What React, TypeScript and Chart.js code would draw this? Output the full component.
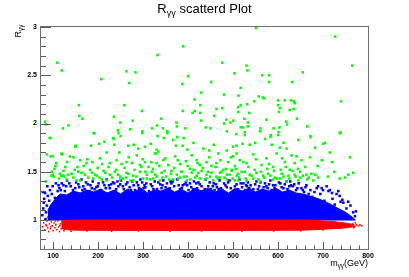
import React, { useEffect, useRef } from "react";
import { Chart, registerables } from "chart.js";

Chart.register(...registerables);

// ---- axis ticks ----
const xTickValues = [100, 200, 300, 400, 500, 600, 700, 800];
const yTickValues = [1, 1.5, 2, 2.5, 3];
const xRange = [73, 800];
const yRange = [0.7, 3];

// ---- dense bands (envelopes) ----
const redBandX = [118, 130, 150, 200, 300, 400, 500, 600, 650, 680, 700, 720, 740, 755, 765, 770];
const redBandTop = [0.99, 0.997, 1.0, 1.0, 1.0, 1.0, 1.0, 1.0, 1.0, 1.0, 0.99, 0.985, 0.975, 0.965, 0.955, 0.95];
const redBandBottom = [0.91, 0.9, 0.895, 0.893, 0.892, 0.892, 0.892, 0.893, 0.895, 0.9, 0.905, 0.91, 0.915, 0.922, 0.93, 0.94];

const blueBandX = [88, 95, 105, 115, 130, 145, 160, 175, 190, 205, 220, 235, 250, 265, 280, 295, 310, 325, 340, 355, 370, 385, 400, 415, 430, 445, 460, 475, 490, 505, 520, 535, 550, 565, 580, 595, 610, 625, 640, 655, 670, 690, 710, 730, 750, 765, 772];
const blueBandTop = [1.1, 1.16, 1.22, 1.27, 1.26, 1.3, 1.28, 1.31, 1.29, 1.32, 1.28, 1.31, 1.27, 1.32, 1.29, 1.33, 1.28, 1.31, 1.3, 1.33, 1.29, 1.32, 1.28, 1.33, 1.3, 1.33, 1.29, 1.32, 1.28, 1.33, 1.3, 1.33, 1.29, 1.32, 1.3, 1.33, 1.29, 1.31, 1.28, 1.27, 1.25, 1.22, 1.18, 1.13, 1.08, 1.03, 1.0];
const blueBandFloor = 1.0;

// ---- scattered points ----
const redPoints: [number, number][] = [
  [76, 0.93], [79, 0.97], [81, 0.9], [84, 0.95], [86, 0.99], [88, 0.92], [90, 0.88], [92, 0.96], [94, 0.91],
  [96, 0.98], [98, 0.94], [100, 0.89], [102, 0.97], [104, 0.92], [106, 0.95], [108, 0.9], [110, 0.99],
  [112, 0.93], [114, 0.88], [116, 0.96], [118, 0.91], [120, 0.98], [122, 0.94], [124, 0.89], [85, 0.94],
  [95, 0.93], [105, 0.99], [115, 0.94], [140, 0.885], [175, 0.887], [230, 0.884], [290, 0.886], [360, 0.885],
  [430, 0.887], [520, 0.884], [590, 0.886], [650, 0.889], [700, 0.897],
  [762, 0.94], [766, 0.96], [770, 0.93], [774, 0.95], [778, 0.94], [782, 0.95], [786, 0.94], [768, 0.92], [772, 0.97],
];

const bluePoints: [number, number][] = [
  [76, 1.05], [78, 1.12], [80, 1.22], [82, 1.28], [79, 1.18], [84, 1.08], [86, 1.15], [88, 1.25], [90, 1.03],
  [91, 1.2], [93, 1.31], [95, 1.1], [97, 1.27], [99, 1.35], [100, 1.17], [102, 1.06], [104, 1.23], [106, 1.38],
  [108, 1.13], [110, 1.3], [83, 1.01], [87, 1.35], [96, 1.04], [112, 1.36], [77, 1.29],
  [114, 1.33], [119, 1.38], [126, 1.3], [131, 1.41], [139, 1.35], [144, 1.31], [151, 1.39], [158, 1.34], [163, 1.42],
  [170, 1.32], [177, 1.37], [181, 1.3], [188, 1.4], [196, 1.34], [201, 1.38], [207, 1.31], [214, 1.36], [219, 1.42],
  [226, 1.33], [233, 1.39], [238, 1.3], [245, 1.35], [251, 1.41], [257, 1.32], [262, 1.37], [270, 1.34], [276, 1.4],
  [282, 1.31], [289, 1.36], [294, 1.42], [301, 1.33], [307, 1.38], [313, 1.3], [320, 1.35], [326, 1.4], [331, 1.32],
  [338, 1.37], [345, 1.41], [350, 1.34], [357, 1.31], [363, 1.38], [369, 1.35], [376, 1.42], [382, 1.32], [388, 1.36],
  [395, 1.39], [401, 1.31], [407, 1.34], [413, 1.4], [420, 1.33], [426, 1.37], [432, 1.3], [439, 1.42], [445, 1.35],
  [451, 1.32], [457, 1.38], [464, 1.34], [470, 1.41], [476, 1.31], [483, 1.36], [489, 1.39], [495, 1.33], [501, 1.3],
  [508, 1.37], [514, 1.42], [520, 1.34], [527, 1.31], [533, 1.39], [539, 1.36], [545, 1.32], [552, 1.4], [558, 1.35],
  [564, 1.31], [571, 1.38], [577, 1.33], [583, 1.41], [589, 1.36], [596, 1.3], [602, 1.39], [608, 1.34], [615, 1.37],
  [621, 1.32], [627, 1.4], [633, 1.35], [640, 1.31], [646, 1.38],
  [123, 1.36], [167, 1.35], [229, 1.37], [286, 1.39], [341, 1.33], [398, 1.36], [459, 1.31], [517, 1.38], [574, 1.35],
  [629, 1.36], [186, 1.33], [243, 1.4], [303, 1.36], [361, 1.4], [418, 1.38], [473, 1.33], [531, 1.35], [592, 1.33],
  [117, 1.31], [129, 1.35], [136, 1.38], [149, 1.33], [156, 1.37], [165, 1.31], [173, 1.39], [183, 1.36], [192, 1.32],
  [199, 1.35], [211, 1.39], [217, 1.33], [224, 1.36], [236, 1.38], [240, 1.32], [249, 1.37], [255, 1.35], [265, 1.39],
  [273, 1.31], [279, 1.36], [291, 1.33], [298, 1.39], [305, 1.34], [317, 1.37], [323, 1.32], [334, 1.39], [343, 1.36],
  [353, 1.38], [359, 1.33], [366, 1.4], [379, 1.36], [386, 1.33], [392, 1.37], [404, 1.38], [411, 1.32], [423, 1.39],
  [430, 1.35], [437, 1.32], [448, 1.39], [455, 1.35], [462, 1.37], [468, 1.32], [480, 1.38], [486, 1.34], [492, 1.41],
  [504, 1.35], [511, 1.32], [523, 1.38], [529, 1.36], [536, 1.33], [549, 1.37], [555, 1.32], [561, 1.39], [568, 1.34],
  [580, 1.37], [586, 1.31], [594, 1.36], [605, 1.38], [612, 1.33], [619, 1.4], [625, 1.35], [636, 1.37], [643, 1.33],
  [655, 1.31], [661, 1.34],
  [652, 1.33], [658, 1.29], [663, 1.36], [668, 1.27], [672, 1.31], [676, 1.24], [681, 1.29], [686, 1.33], [689, 1.35],
  [694, 1.27], [697, 1.33], [703, 1.2], [708, 1.35], [712, 1.3], [715, 1.31], [721, 1.22], [726, 1.16], [730, 1.27],
  [734, 1.3], [737, 1.25], [739, 1.19], [745, 1.18], [749, 1.06], [752, 1.12], [756, 1.19], [761, 1.15], [767, 1.08],
  [773, 1.09], [771, 1.04], [700, 1.31], [720, 1.28], [743, 1.21],
];

const greenPoints: [number, number][] = [
  [109, 2.63], [119, 2.55], [389, 2.8], [332, 2.71], [476, 2.63], [263, 2.54], [283, 2.53], [207, 2.46], [269, 2.42],
  [400, 2.49], [387, 2.41], [451, 2.43], [503, 2.52], [429, 2.32], [414, 2.25], [480, 2.3], [512, 2.29], [157, 2.19],
  [258, 2.19], [427, 2.19], [476, 2.16], [297, 2.13], [388, 2.13], [415, 2.13], [410, 2.11], [463, 2.15], [427, 2.11],
  [511, 2.17], [511, 2.12], [158, 2.08], [165, 2.05], [235, 2.07], [458, 2.08], [429, 2.03], [277, 2.03], [249, 2.01],
  [340, 2.05], [374, 2.01], [480, 2.0], [494, 2.01], [500, 2.03], [122, 1.95], [134, 1.98], [192, 1.9], [244, 1.93],
  [271, 1.94], [298, 1.92], [320, 1.95], [331, 1.98], [344, 1.95], [354, 1.92], [375, 1.97], [394, 1.95], [439, 1.96],
  [450, 1.95], [486, 1.92], [517, 1.96], [234, 1.85], [250, 1.87], [332, 1.87], [346, 1.85], [376, 1.86], [390, 1.85],
  [551, 2.99], [727, 2.9], [765, 2.6], [530, 2.6], [532, 2.55], [565, 2.5], [580, 2.5], [655, 2.53], [580, 2.43],
  [631, 2.43], [517, 2.37], [557, 2.28], [566, 2.27], [569, 2.26], [600, 2.24], [615, 2.24], [629, 2.24], [635, 2.23],
  [637, 2.21], [547, 2.23], [531, 2.2], [517, 2.19], [600, 2.19], [604, 2.16], [635, 2.15], [626, 2.14], [740, 2.23],
  [602, 2.12], [536, 2.11], [642, 2.05], [485, 2.04], [525, 2.05], [574, 2.04], [618, 2.02], [620, 1.99], [665, 1.97],
  [533, 2.01], [533, 1.97], [522, 1.96], [561, 1.95], [590, 1.95], [603, 1.96], [601, 1.91], [507, 1.89], [526, 1.91],
  [584, 1.88], [672, 1.86], [739, 1.91],
  [82, 2.02], [84, 1.99], [94, 1.85], [92, 1.85], [149, 1.76], [86, 1.68], [94, 1.66], [99, 1.66], [119, 1.68],
  [145, 1.65], [107, 1.59], [105, 1.56], [103, 1.53], [97, 1.5], [99, 1.47], [96, 1.46], [101, 1.45], [115, 1.48],
  [118, 1.46], [122, 1.46], [125, 1.45], [84, 1.4], [154, 1.55], [156, 1.5],
  [190, 1.9], [245, 1.9], [298, 1.9], [354, 1.9], [150, 1.77], [184, 1.77], [202, 1.79], [214, 1.81], [234, 1.84],
  [236, 1.78], [267, 1.77], [279, 1.78], [289, 1.74], [304, 1.76], [317, 1.79], [330, 1.73], [334, 1.71], [329, 1.69],
  [367, 1.83], [373, 1.77], [388, 1.77], [398, 1.73], [412, 1.8], [434, 1.74], [447, 1.72], [457, 1.78], [467, 1.69],
  [486, 1.72], [500, 1.76], [508, 1.69], [119, 1.69], [137, 1.66], [160, 1.62], [174, 1.59], [187, 1.6], [204, 1.64],
  [219, 1.7], [226, 1.59], [247, 1.7], [252, 1.58], [263, 1.6], [275, 1.59], [286, 1.67], [293, 1.57], [304, 1.6],
  [312, 1.55], [326, 1.69], [330, 1.59], [345, 1.62], [356, 1.57], [371, 1.66], [382, 1.58], [395, 1.61], [404, 1.53],
  [419, 1.62], [426, 1.57], [441, 1.6], [452, 1.56], [463, 1.59], [478, 1.52], [489, 1.6], [504, 1.56],
  [123, 1.51], [141, 1.48], [156, 1.5], [171, 1.47], [186, 1.49], [197, 1.46], [212, 1.51], [226, 1.47], [237, 1.5],
  [249, 1.45], [263, 1.49], [278, 1.46], [293, 1.5], [308, 1.47], [319, 1.5], [330, 1.45], [341, 1.49], [351, 1.45],
  [363, 1.51], [375, 1.47], [386, 1.5], [397, 1.45], [408, 1.49], [419, 1.46], [430, 1.51], [441, 1.47], [452, 1.49],
  [463, 1.45], [474, 1.5], [486, 1.47], [497, 1.51], [508, 1.46], [130, 1.42], [160, 1.41], [189, 1.43], [219, 1.41],
  [249, 1.42], [278, 1.41], [308, 1.43], [337, 1.41], [367, 1.42], [397, 1.41], [426, 1.43], [456, 1.41], [486, 1.42],
  [512, 1.41], [145, 1.44], [203, 1.44], [262, 1.44], [322, 1.43], [382, 1.44], [441, 1.43], [470, 1.44],
  [526, 1.88], [560, 1.92], [583, 1.86], [600, 1.88], [612, 1.8], [645, 1.83], [672, 1.87], [737, 1.9], [508, 1.77],
  [521, 1.79], [537, 1.78], [549, 1.8], [571, 1.84], [586, 1.78], [604, 1.75], [619, 1.74], [630, 1.67], [652, 1.62],
  [671, 1.65], [682, 1.75], [704, 1.8], [715, 1.7], [700, 1.79], [760, 1.65], [767, 1.49], [756, 1.47], [749, 1.44],
  [737, 1.43], [697, 1.62], [500, 1.66], [515, 1.62], [530, 1.59], [545, 1.68], [563, 1.57], [574, 1.64], [589, 1.55],
  [597, 1.69], [615, 1.6], [626, 1.52], [637, 1.59], [649, 1.5], [660, 1.55], [674, 1.48], [689, 1.44], [678, 1.41],
  [497, 1.52], [511, 1.48], [526, 1.5], [537, 1.47], [552, 1.49], [567, 1.46], [578, 1.48], [593, 1.44], [608, 1.48],
  [623, 1.46], [637, 1.47], [649, 1.44], [663, 1.47], [504, 1.41], [530, 1.41], [560, 1.4], [589, 1.42], [619, 1.4],
  [645, 1.41], [545, 1.43], [604, 1.43], [665, 1.42],
  [113, 1.43], [127, 1.55], [133, 1.47], [148, 1.52], [152, 1.41], [163, 1.49], [168, 1.56], [178, 1.44], [182, 1.52],
  [193, 1.47], [199, 1.54], [208, 1.42], [216, 1.49], [223, 1.55], [231, 1.44], [240, 1.52], [244, 1.47], [255, 1.43],
  [259, 1.54], [267, 1.48], [272, 1.41], [281, 1.52], [285, 1.45], [296, 1.55], [300, 1.43], [305, 1.5], [315, 1.42],
  [322, 1.53], [327, 1.47], [336, 1.56], [343, 1.44], [348, 1.51], [358, 1.42], [362, 1.48], [369, 1.54], [378, 1.43],
  [384, 1.5], [391, 1.45], [399, 1.56], [405, 1.42], [412, 1.52], [416, 1.44], [423, 1.49], [433, 1.54], [437, 1.42],
  [444, 1.5], [449, 1.45], [461, 1.55], [466, 1.43], [471, 1.49], [481, 1.44], [484, 1.53], [492, 1.47], [499, 1.43],
  [506, 1.53], [513, 1.44], [519, 1.5], [528, 1.43], [534, 1.55], [541, 1.46], [548, 1.52], [556, 1.42], [562, 1.5],
  [569, 1.44], [576, 1.53], [583, 1.46], [591, 1.51], [598, 1.43], [606, 1.52], [612, 1.45], [617, 1.55], [625, 1.43],
  [632, 1.51], [639, 1.45], [644, 1.53], [655, 1.46], [668, 1.44], [683, 1.47], [711, 1.45], [725, 1.5],
  [131, 1.6], [176, 1.63], [209, 1.58], [241, 1.62], [268, 1.65], [299, 1.63], [318, 1.6], [349, 1.64], [377, 1.62],
  [408, 1.67], [421, 1.59], [447, 1.65], [472, 1.62], [495, 1.65], [523, 1.6], [551, 1.63], [580, 1.58], [609, 1.64],
  [641, 1.66], [688, 1.56], [720, 1.6],
];

const RED = "#ff0000";
const BLUE = "#0000ff";
const GREEN = "#00ff00";
const FONT = "'Liberation Sans', Arial, Helvetica, sans-serif";

const rootTicks = {
  id: "rootTicks",
  afterDatasetsDraw(chart: any) {
    const { ctx, chartArea, scales } = chart;
    const { left, right, top, bottom } = chartArea;
    const xs = scales.x;
    const ys = scales.y;
    ctx.save();
    ctx.strokeStyle = "#5a5a5a";
    ctx.lineWidth = 1;
    ctx.beginPath();
    for (let v = 80; v <= 800; v += 20) {
      const px = Math.round(xs.getPixelForValue(v)) + 0.5;
      const len = v % 100 === 0 ? 7 : 3.5;
      ctx.moveTo(px, bottom);
      ctx.lineTo(px, bottom - len);
    }
    for (let k = 8; k <= 30; k++) {
      const py = Math.round(ys.getPixelForValue(k / 10)) + 0.5;
      const len = k % 5 === 0 ? 10 : 5;
      ctx.moveTo(left, py);
      ctx.lineTo(left + len, py);
    }
    ctx.stroke();
    ctx.strokeStyle = "#6e6e6e";
    ctx.strokeRect(Math.round(left) - 0.5, Math.round(top) - 0.5, Math.round(right - left) + 1, Math.round(bottom - top) + 1);
    ctx.restore();
  },
};

function band(xArr: number[], yArr: number[]) {
  return xArr.map((x, i) => ({ x, y: yArr[i] }));
}

export default function App() {
  const ref = useRef<HTMLCanvasElement | null>(null);

  useEffect(() => {
    document.body.style.margin = "0";
    const canvas = ref.current!;
    const pts = (arr: [number, number][]) => arr.map(([x, y]) => ({ x, y }));
    const bandStyle = (color: string, fill: any) => ({
      showLine: true,
      pointRadius: 0,
      borderWidth: 1,
      borderColor: color,
      backgroundColor: color,
      fill,
      tension: 0,
      order: 10,
    });
    const chart = new Chart(canvas, {
      type: "scatter",
      data: {
        datasets: [
          { label: "redLow", data: band(redBandX, redBandBottom), ...bandStyle(RED, false) },
          { label: "redHigh", data: band(redBandX, redBandTop), ...bandStyle(RED, "-1") },
          { label: "blueLow", data: band(blueBandX, blueBandX.map(() => blueBandFloor)), ...bandStyle(BLUE, false) },
          { label: "blueHigh", data: band(blueBandX, blueBandTop), ...bandStyle(BLUE, "-1") },
          {
            label: "red",
            data: pts(redPoints),
            pointStyle: "rect",
            pointRadius: 1.1,
            pointBorderWidth: 0,
            backgroundColor: RED,
            order: 2,
          },
          {
            label: "blue",
            data: pts(bluePoints),
            pointStyle: "rect",
            pointRadius: 1.8,
            pointBorderWidth: 0,
            backgroundColor: BLUE,
            order: 1,
          },
          {
            label: "green",
            data: pts(greenPoints),
            pointStyle: "rect",
            pointRadius: 1.8,
            pointBorderWidth: 0,
            backgroundColor: GREEN,
            order: 0,
          },
        ],
      },
      options: {
        animation: false,
        responsive: false,
        devicePixelRatio: 1,
        events: [],
        layout: { padding: { top: 27, right: 41, left: 0, bottom: 0 } },
        plugins: { legend: { display: false }, tooltip: { enabled: false }, title: { display: false } },
        scales: {
          x: {
            type: "linear",
            min: xRange[0],
            max: xRange[1],
            grid: { display: false, drawTicks: false },
            border: { display: false },
            afterBuildTicks: (s: any) => {
              s.ticks = xTickValues.map((value) => ({ value }));
            },
            afterFit: (s: any) => {
              s.height = 28;
            },
            ticks: {
              padding: 3,
              color: "#000",
              font: { family: FONT, size: 7, weight: "bold" },
              callback: (v: any) => String(v),
              maxRotation: 0,
              autoSkip: false,
            },
          },
          y: {
            type: "linear",
            min: yRange[0],
            max: yRange[1],
            grid: { display: false, drawTicks: false },
            border: { display: false },
            afterBuildTicks: (s: any) => {
              s.ticks = yTickValues.map((value) => ({ value }));
            },
            afterFit: (s: any) => {
              s.width = 41;
            },
            ticks: {
              padding: 4,
              color: "#000",
              font: { family: FONT, size: 7, weight: "bold" },
              callback: (v: any) => String(v),
              autoSkip: false,
            },
          },
        },
      },
      plugins: [rootTicks],
    });
    return () => chart.destroy();
  }, []);

  const sub: React.CSSProperties = { fontSize: "70%", position: "relative", top: "0.35em", lineHeight: 0 };

  return (
    <div style={{ position: "relative", width: 409, height: 277, background: "#fff", fontFamily: FONT }}>
      <canvas ref={ref} width={409} height={277} style={{ display: "block" }} />
      <div
        style={{
          position: "absolute",
          left: 0,
          top: 1,
          width: 409,
          textAlign: "center",
          fontSize: 13,
          lineHeight: "15px",
          color: "#000",
          whiteSpace: "nowrap",
        }}
      >
        R<span style={sub}>γγ</span> scatterd Plot
      </div>
      <div
        style={{
          position: "absolute",
          left: 18,
          top: 31,
          transform: "translate(-50%, -50%) rotate(-90deg)",
          fontSize: 9,
          lineHeight: "10px",
          color: "#000",
          whiteSpace: "nowrap",
        }}
      >
        R<span style={sub}>γγ</span>
      </div>
      <div
        style={{
          position: "absolute",
          right: 41,
          top: 258,
          fontSize: 9,
          lineHeight: "10px",
          color: "#000",
          whiteSpace: "nowrap",
        }}
      >
        m<span style={sub}>γγ</span>(GeV)
      </div>
    </div>
  );
}
